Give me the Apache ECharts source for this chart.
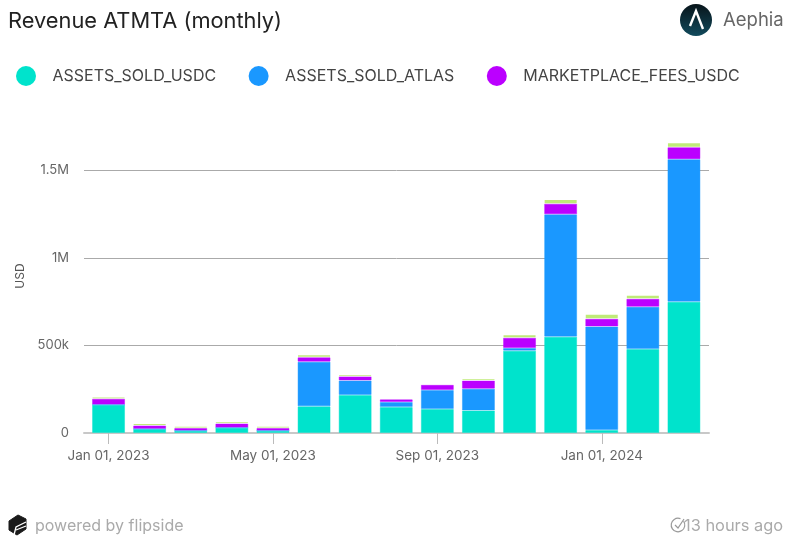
<!DOCTYPE html>
<html>
<head>
<meta charset="utf-8">
<style>html,body{margin:0;padding:0;background:#fff}#c{width:790px;height:543px}</style>
<script src="https://cdn.jsdelivr.net/npm/echarts@6/dist/echarts.min.js"></script>
</head>
<body>
<div id="c"></div>
<script>
const months = ['Jan 01, 2023','Feb 01, 2023','Mar 01, 2023','Apr 01, 2023','May 01, 2023','Jun 01, 2023','Jul 01, 2023','Aug 01, 2023','Sep 01, 2023','Oct 01, 2023','Nov 01, 2023','Dec 01, 2023','Jan 01, 2024','Feb 01, 2024','Mar 01, 2024'];
const assetsSoldUsdc = [161000,23000,13000,30000,13000,152000,217000,148000,137000,129000,470000,550000,17000,479000,749000];
const assetsSoldAtlas = [1000,1000,1000,1000,1000,255000,83000,29000,108000,124000,15000,698000,591000,241000,814000];
const marketplaceFeesUsdc = [34000,19000,15000,23000,15000,25000,23000,15000,30000,46000,59000,61000,44000,46000,68000];
const otherFees = [10000,11000,9000,10000,9000,15000,10000,2000,2000,10000,17000,23000,26000,20000,25000];
const yTicks = {0:'0',500000:'500k',1000000:'1M',1500000:'1.5M'};

const font = 'Inter, "Noto Sans", sans-serif';
const yMax = 1792000;
const mk = (name,data,color,border) => ({
  name, type:'bar', stack:'total', barWidth:33, data, xAxisIndex:1, yAxisIndex:1,
  itemStyle:{color,borderColor:border,borderWidth:1}
});
const chart = echarts.init(document.getElementById('c'),null,{renderer:'canvas'});
chart.setOption({
  animation:false,
  backgroundColor:'#fff',
  textStyle:{fontFamily:font},
  title:{text:'Revenue ATMTA (monthly)',left:8,top:10,padding:0,textStyle:{fontFamily:font,fontSize:21.8,fontWeight:400,color:'#222'}},
  legend:{
    left:16,top:66,padding:0,icon:'circle',itemWidth:20,itemHeight:20,itemGap:32.5,
    itemStyle:{borderWidth:0},
    data:['ASSETS_SOLD_USDC','ASSETS_SOLD_ATLAS','MARKETPLACE_FEES_USDC'],
    textStyle:{fontFamily:font,fontSize:16,color:'#444',padding:[0,0,0,11.5]}
  },
  grid:[
    {left:84,right:81,top:119,bottom:110},
    {left:88,right:85.5,top:119,bottom:110}
  ],
  xAxis:[
    {gridIndex:0,type:'value',min:0,max:1,splitLine:{show:false},axisTick:{show:false},axisLabel:{show:false},
     axisLine:{show:true,lineStyle:{color:'#c8c8c8',width:2}}},
    {gridIndex:1,type:'category',data:months,
     axisLine:{show:false},
     axisTick:{show:true,alignWithLabel:true,interval:3,length:11,lineStyle:{color:'#bbb'}},
     axisLabel:{interval:3,color:'#666',fontSize:13.5,margin:16,fontFamily:font,hideOverlap:false}}
  ],
  yAxis:[
    {gridIndex:0,type:'value',min:0,max:yMax,interval:500000,
     name:'USD',nameLocation:'middle',nameGap:51,nameRotate:90,
     nameTextStyle:{color:'#555',fontSize:12,fontFamily:font},
     axisLine:{show:false},axisTick:{show:false},
     splitLine:{showMaxLine:false,lineStyle:{color:'#aaa',width:1}},
     axisLabel:{showMaxLabel:false,formatter:v=>yTicks[v]||'',color:'#666',fontSize:13,margin:15,fontFamily:font}},
    {gridIndex:1,type:'value',min:0,max:yMax,show:false,splitLine:{show:false}}
  ],
  series:[
    mk('ASSETS_SOLD_USDC',assetsSoldUsdc,'#00E3CC','rgba(0,227,204,0.45)'),
    mk('ASSETS_SOLD_ATLAS',assetsSoldAtlas,'#1A98FF','rgba(26,152,255,0.45)'),
    mk('MARKETPLACE_FEES_USDC',marketplaceFeesUsdc,'#BB00FF','rgba(187,0,255,0.45)'),
    mk('OTHER_FEES',otherFees,'#BFEB78','transparent')
  ],
  graphic:[
    {type:'circle',shape:{cx:696,cy:20,r:16},style:{fill:new echarts.graphic.LinearGradient(0,0,0,1,[{offset:0,color:'#08141a'},{offset:1,color:'#114a5c'}])}},
    {type:'polyline',shape:{points:[[690,26],[696,11],[703,29]]},style:{stroke:'#fff',fill:'none',lineWidth:2.4}},
    {type:'text',style:{x:723,y:20,text:'Aephia',fontFamily:font,fontSize:18.5,fill:'#666',verticalAlign:'middle'}},
    {type:'polygon',shape:{points:[[18,515],[26,519],[26,529],[17,535],[9,530],[9,521]]},style:{fill:'#1a1a1a',stroke:'#1a1a1a',lineWidth:1,lineJoin:'round'}},
    {type:'polyline',shape:{points:[[14,535],[16,527],[26,522]]},style:{stroke:'#fff',fill:'none',lineWidth:1.3}},
    {type:'polyline',shape:{points:[[16,530],[26,526]]},style:{stroke:'#fff',fill:'none',lineWidth:1.3}},
    {type:'text',style:{x:35,y:526,text:'powered by flipside',fontFamily:font,fontSize:16,fill:'#aaa',verticalAlign:'middle'}},
    {type:'arc',shape:{cx:678,cy:525,r:6.8,startAngle:-0.6,endAngle:-1.2,clockwise:true},style:{stroke:'#999',fill:'none',lineWidth:1.2}},
    {type:'polyline',shape:{points:[[675,525],[678,528],[684,519]]},style:{stroke:'#999',fill:'none',lineWidth:1.2}},
    {type:'text',style:{x:684,y:526,text:'13 hours ago',fontFamily:font,fontSize:16.4,fill:'#aaa',verticalAlign:'middle'}}
  ]
});
</script>
</body>
</html>
